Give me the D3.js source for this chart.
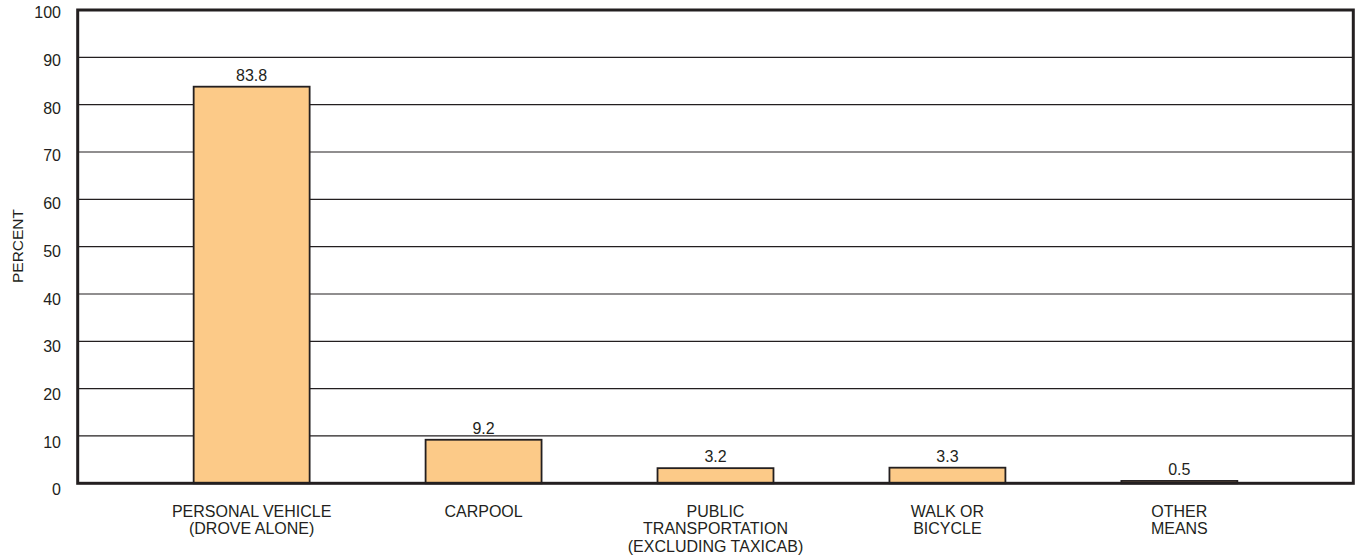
<!DOCTYPE html>
<html><head><meta charset="utf-8">
<script src="https://cdn.jsdelivr.net/npm/d3@7"></script>
<style>body{margin:0;background:#fff}svg{display:block}text{font-family:"Liberation Sans",Arial,sans-serif;fill:#231f20}</style>
</head><body>
<script>
const categories = [["PERSONAL VEHICLE","(DROVE ALONE)"],["CARPOOL"],["PUBLIC","TRANSPORTATION","(EXCLUDING TAXICAB)"],["WALK OR","BICYCLE"],["OTHER","MEANS"]];
const values = [83.8, 9.2, 3.2, 3.3, 0.5];
const yTicks = [0,10,20,30,40,50,60,70,80,90,100];

const W = 1357, H = 560;
const m = {l:77.7, r:3.7, t:10, b:76.7};
const svg = d3.select("body").append("svg").attr("width",W).attr("height",H);
const x = d3.scaleBand().domain(d3.range(values.length)).range([m.l, W-m.r]).paddingInner(0.5).paddingOuter(0.5);
const y = d3.scaleLinear().domain([0,100]).range([H-m.b, m.t]);
const FS = 16;

// gridlines
svg.append("g").selectAll("line").data(yTicks.filter(d=>d>0&&d<100)).join("line")
  .attr("x1",m.l).attr("x2",W-m.r).attr("y1",d=>y(d)).attr("y2",d=>y(d))
  .attr("stroke","#231f20").attr("stroke-width",1.2);

// tick labels
svg.append("g").selectAll("text").data(yTicks).join("text")
  .attr("x",61).attr("y",d=>y(d)+8.4+0.036*(100-d))
  .attr("text-anchor","end").attr("font-size",FS).text(d=>d);

// bars
svg.append("g").selectAll("rect").data(values).join("rect")
  .attr("x",(d,i)=>x(i)).attr("width",x.bandwidth())
  .attr("y",d=>y(d)).attr("height",d=>y(0)-y(d))
  .attr("fill","#fcca88").attr("stroke","#231f20").attr("stroke-width",1.8);

// value labels
svg.append("g").selectAll("text").data(values).join("text")
  .attr("x",(d,i)=>x(i)+x.bandwidth()/2).attr("y",d=>y(d)-6)
  .attr("text-anchor","middle").attr("font-size",FS).text(d=>d.toFixed(1));

// frame
svg.append("rect").attr("x",m.l).attr("y",m.t).attr("width",W-m.r-m.l).attr("height",H-m.b-m.t)
  .attr("fill","none").attr("stroke","#231f20").attr("stroke-width",3);

// category labels
const cg = svg.append("g").selectAll("text").data(categories).join("text")
  .attr("text-anchor","middle").attr("font-size",FS);
cg.each(function(lines,i){
  d3.select(this).selectAll("tspan").data(lines).join("tspan")
    .attr("x",x(i)+x.bandwidth()/2).attr("y",(l,j)=>516.7+j*17.5).text(l=>l);
});

// y title
svg.append("text").attr("transform","translate(23,246) rotate(-90)")
  .attr("text-anchor","middle").attr("font-size",15.5).text("PERCENT");
</script>
</body></html>
